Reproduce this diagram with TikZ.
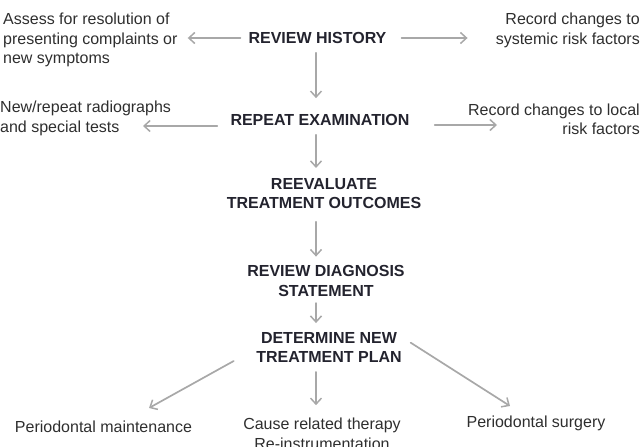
\documentclass[tikz,border=0pt]{standalone}
\usepackage{fontspec}
\setmainfont{Liberation Sans}
\usetikzlibrary{arrows.meta}
\definecolor{arrgray}{HTML}{A8A8A8}
\definecolor{boldtxt}{HTML}{23232E}
\definecolor{regtxt}{HTML}{2E2E2E}
\begin{document}
\begin{tikzpicture}[x=1pt,y=-1pt,
  arr/.style={draw=arrgray, line width=1.7pt, line cap=round,
    -{Straight Barb[length=6pt,width=11pt,line width=1.5pt]}},
  head/.style={font=\fontsize{16}{19.5}\selectfont\bfseries, text=boldtxt, align=center, inner sep=0pt},
  note/.style={font=\fontsize{16}{19.5}\selectfont, text=regtxt, inner sep=0pt}]
\useasboundingbox (0,0) rectangle (643,447);
% nodes
\node[head] (rh) at (317.5,38) {REVIEW HISTORY};
\node[note, anchor=west, align=left] (assess) at (3,40) {Assess for resolution of\\presenting complaints or\\new symptoms};
\node[note, anchor=east, align=right] (sys) at (640,30.5) {Record changes to\\systemic risk factors};
\node[head] (re) at (320,120) {REPEAT EXAMINATION};
\node[note, anchor=west, align=left] (newrep) at (0,118.5) {New/repeat radiographs\\and special tests};
\node[note, anchor=east, align=right] (local) at (640,119.5) {Record changes to local\\risk factors};
\node[head] (reeval) at (324,193.5) {REEVALUATE\\TREATMENT OUTCOMES};
\node[head] (diag) at (326,281) {REVIEW DIAGNOSIS\\STATEMENT};
\node[head] (plan) at (329,347.5) {DETERMINE NEW\\TREATMENT PLAN};
\node[note] (maint) at (103.5,427) {Periodontal maintenance};
\node[note, align=center] (crt) at (322,434) {Cause related therapy\\Re-instrumentation};
\node[note] (surg) at (536,423) {Periodontal surgery};
% helper coordinates
\coordinate (ax) at (316,0);
\coordinate (t3) at (143,126);
\coordinate (t4) at (497,125);
\coordinate (d1s) at (233.7,361);
\coordinate (d1e) at (149,408);
\coordinate (d2s) at (410.7,342.7);
\coordinate (d2e) at (510,406);
% connectors
\draw[arr, shorten <=8pt, shorten >=10pt] (rh.west) -- (rh.west -| assess.east);
\draw[arr, shorten <=15pt, shorten >=28pt] (rh.east) -- (rh.east -| sys.west);
\draw[arr, shorten <=13pt] (re.west |- t3) -- (t3);
\draw[arr, shorten <=25pt] (re.east |- t4) -- (t4);
\draw[arr, shorten <=9pt, shorten >=16pt] (rh.south -| ax) -- (re.north -| ax);
\draw[arr, shorten <=9pt, shorten >=10pt] (re.south -| ax) -- (reeval.north -| ax);
\draw[arr, shorten <=12.7pt, shorten >=8.8pt] (reeval.south -| ax) -- (diag.north -| ax);
\draw[arr, shorten <=6.5pt, shorten >=9pt] (diag.south -| ax) -- (plan.north -| ax);
\draw[arr, shorten <=9pt, shorten >=13pt] (plan.south -| ax) -- (crt.north -| ax);
\draw[arr] (d1s) -- (d1e);
\draw[arr] (d2s) -- (d2e);
\end{tikzpicture}
\end{document}
